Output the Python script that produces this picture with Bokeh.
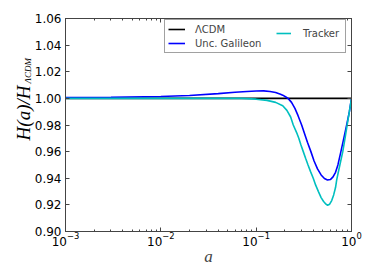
import numpy as np
from bokeh.plotting import figure
from bokeh.models import (Range1d, LogAxis, LinearAxis, FixedTicker, LogTicker,
                          PrintfTickFormatter, Legend, LegendItem, Label)
from bokeh.embed import file_html
from bokeh.resources import INLINE

# ---- data ----
a_lcdm = [0.001, 1.0]
h_lcdm = [1.0, 1.0]

a_gal = [0.001, 0.003, 0.01, 0.02, 0.04, 0.06, 0.08, 0.10, 0.12, 0.14, 0.16,
         0.18, 0.19, 0.205, 0.216, 0.235, 0.255, 0.275, 0.30, 0.32, 0.345,
         0.375, 0.405, 0.44, 0.48, 0.52, 0.56, 0.60, 0.64, 0.68, 0.72, 0.774,
         0.83, 0.89, 0.95, 1.0]
h_gal = [1.0006, 1.0009, 1.0014, 1.0022, 1.0036, 1.0046, 1.0052, 1.0055,
         1.0056, 1.0052, 1.0044, 1.0031, 1.0024, 1.0010, 1.0, 0.997, 0.9925,
         0.987, 0.980, 0.974, 0.967, 0.960, 0.953, 0.947, 0.9425, 0.9398,
         0.9387, 0.939, 0.941, 0.9445, 0.950, 0.960, 0.970, 0.980, 0.990, 1.0]

a_trk = [0.001, 0.01, 0.03, 0.07, 0.10, 0.13, 0.16, 0.19, 0.21, 0.23, 0.245,
         0.265, 0.28, 0.295, 0.312, 0.33, 0.35, 0.372, 0.397, 0.42, 0.45,
         0.48, 0.51, 0.54, 0.561, 0.59, 0.62, 0.65, 0.68, 0.70, 0.75, 0.81,
         0.855, 0.90, 0.95, 1.0]
h_trk = [1.0, 1.0, 1.0, 1.0, 0.9994, 0.9985, 0.997, 0.9945, 0.991, 0.986,
         0.980, 0.9745, 0.970, 0.965, 0.960, 0.955, 0.950, 0.945, 0.940, 0.935,
         0.930, 0.9255, 0.9225, 0.9205, 0.9197, 0.9205, 0.9232, 0.9275, 0.933,
         0.939, 0.949, 0.960, 0.970, 0.980, 0.990, 1.0]

y_ticks = [0.90, 0.92, 0.94, 0.96, 0.98, 1.00, 1.02, 1.04, 1.06]

FONT = "DejaVu Sans"
SERIF = "Liberation Serif"
AXC = "#444444"

p = figure(frame_width=286, frame_height=213, x_axis_type="log",
           x_range=Range1d(1e-3, 1.0), y_range=Range1d(0.90, 1.06),
           output_backend="svg", toolbar_location=None,
           min_border_left=64, min_border_right=22,
           min_border_top=18, min_border_bottom=47)
p.grid.visible = False
p.outline_line_color = AXC
p.outline_line_width = 1

r1 = p.line(a_lcdm, h_lcdm, line_color="black", line_width=1.6)
r2 = p.line(a_gal, h_gal, line_color="#0000ff", line_width=1.6)
r3 = p.line(a_trk, h_trk, line_color="#00bfbf", line_width=1.6)


def style(ax):
    ax.axis_line_color = AXC
    ax.major_tick_line_color = AXC
    ax.minor_tick_line_color = AXC
    ax.major_tick_in = 4
    ax.major_tick_out = 0
    ax.minor_tick_in = 2
    ax.minor_tick_out = 0
    ax.major_label_text_font = FONT
    ax.major_label_text_font_size = "12px"
    ax.major_label_text_color = "black"


xa = p.xaxis[0]
xa.ticker = LogTicker(num_minor_ticks=10)
style(xa)
xa.major_label_standoff = 0
xa.axis_label = "a"
xa.axis_label_text_font = SERIF
xa.axis_label_text_font_style = "italic"
xa.axis_label_text_font_size = "17px"
xa.axis_label_standoff = -2

ya = p.yaxis[0]
ya.ticker = FixedTicker(ticks=y_ticks)
ya.formatter = PrintfTickFormatter(format="%.2f")
style(ya)
ya.major_label_standoff = 4

top = LogAxis(ticker=LogTicker(num_minor_ticks=10))
style(top)
top.major_label_text_font_size = "1px"
top.major_label_text_alpha = 0
top.major_label_standoff = 0
p.add_layout(top, "above")

right = LinearAxis(ticker=FixedTicker(ticks=y_ticks))
style(right)
right.major_label_text_font_size = "1px"
right.major_label_text_alpha = 0
right.major_label_standoff = 0
p.add_layout(right, "right")

# y axis title H(a)/H_{ΛCDM}, placed in the left border panel
p.add_layout(Label(x=23, y=85, x_units="canvas", y_units="canvas",
                   text="H(a)/H", angle=np.pi / 2, text_align="right",
                   text_baseline="middle", text_font=SERIF,
                   text_font_style="italic", text_font_size="19px",
                   text_color="black"), "left")
p.add_layout(Label(x=27, y=83, x_units="canvas", y_units="canvas",
                   text="ΛCDM", angle=np.pi / 2, text_align="left",
                   text_baseline="middle", text_font=SERIF,
                   text_font_style="italic", text_font_size="9px",
                   text_color="black"), "left")


def leg_style(lg):
    lg.label_text_font = FONT
    lg.label_text_font_size = "10px"
    lg.glyph_height = 12
    lg.label_height = 12
    lg.padding = 3
    lg.spacing = 2
    lg.margin = 0


leg1 = Legend(items=[LegendItem(label="ΛCDM", renderers=[r1]),
                     LegendItem(label="Unc. Galileon", renderers=[r2])],
              location=(99, 178))
leg_style(leg1)
leg1.glyph_width = 17
leg1.label_standoff = 10
leg1.label_width = 147
leg1.border_line_color = AXC
leg1.border_line_width = 1
leg1.background_fill_alpha = 1
p.add_layout(leg1)

leg2 = Legend(items=[LegendItem(label="Tracker", renderers=[r3])],
              location=(211, 192))
leg_style(leg2)
leg2.glyph_width = 15
leg2.label_standoff = 12
leg2.border_line_color = None
leg2.background_fill_alpha = 0
p.add_layout(leg2)

open("out.html", "w").write(file_html(p, INLINE))
